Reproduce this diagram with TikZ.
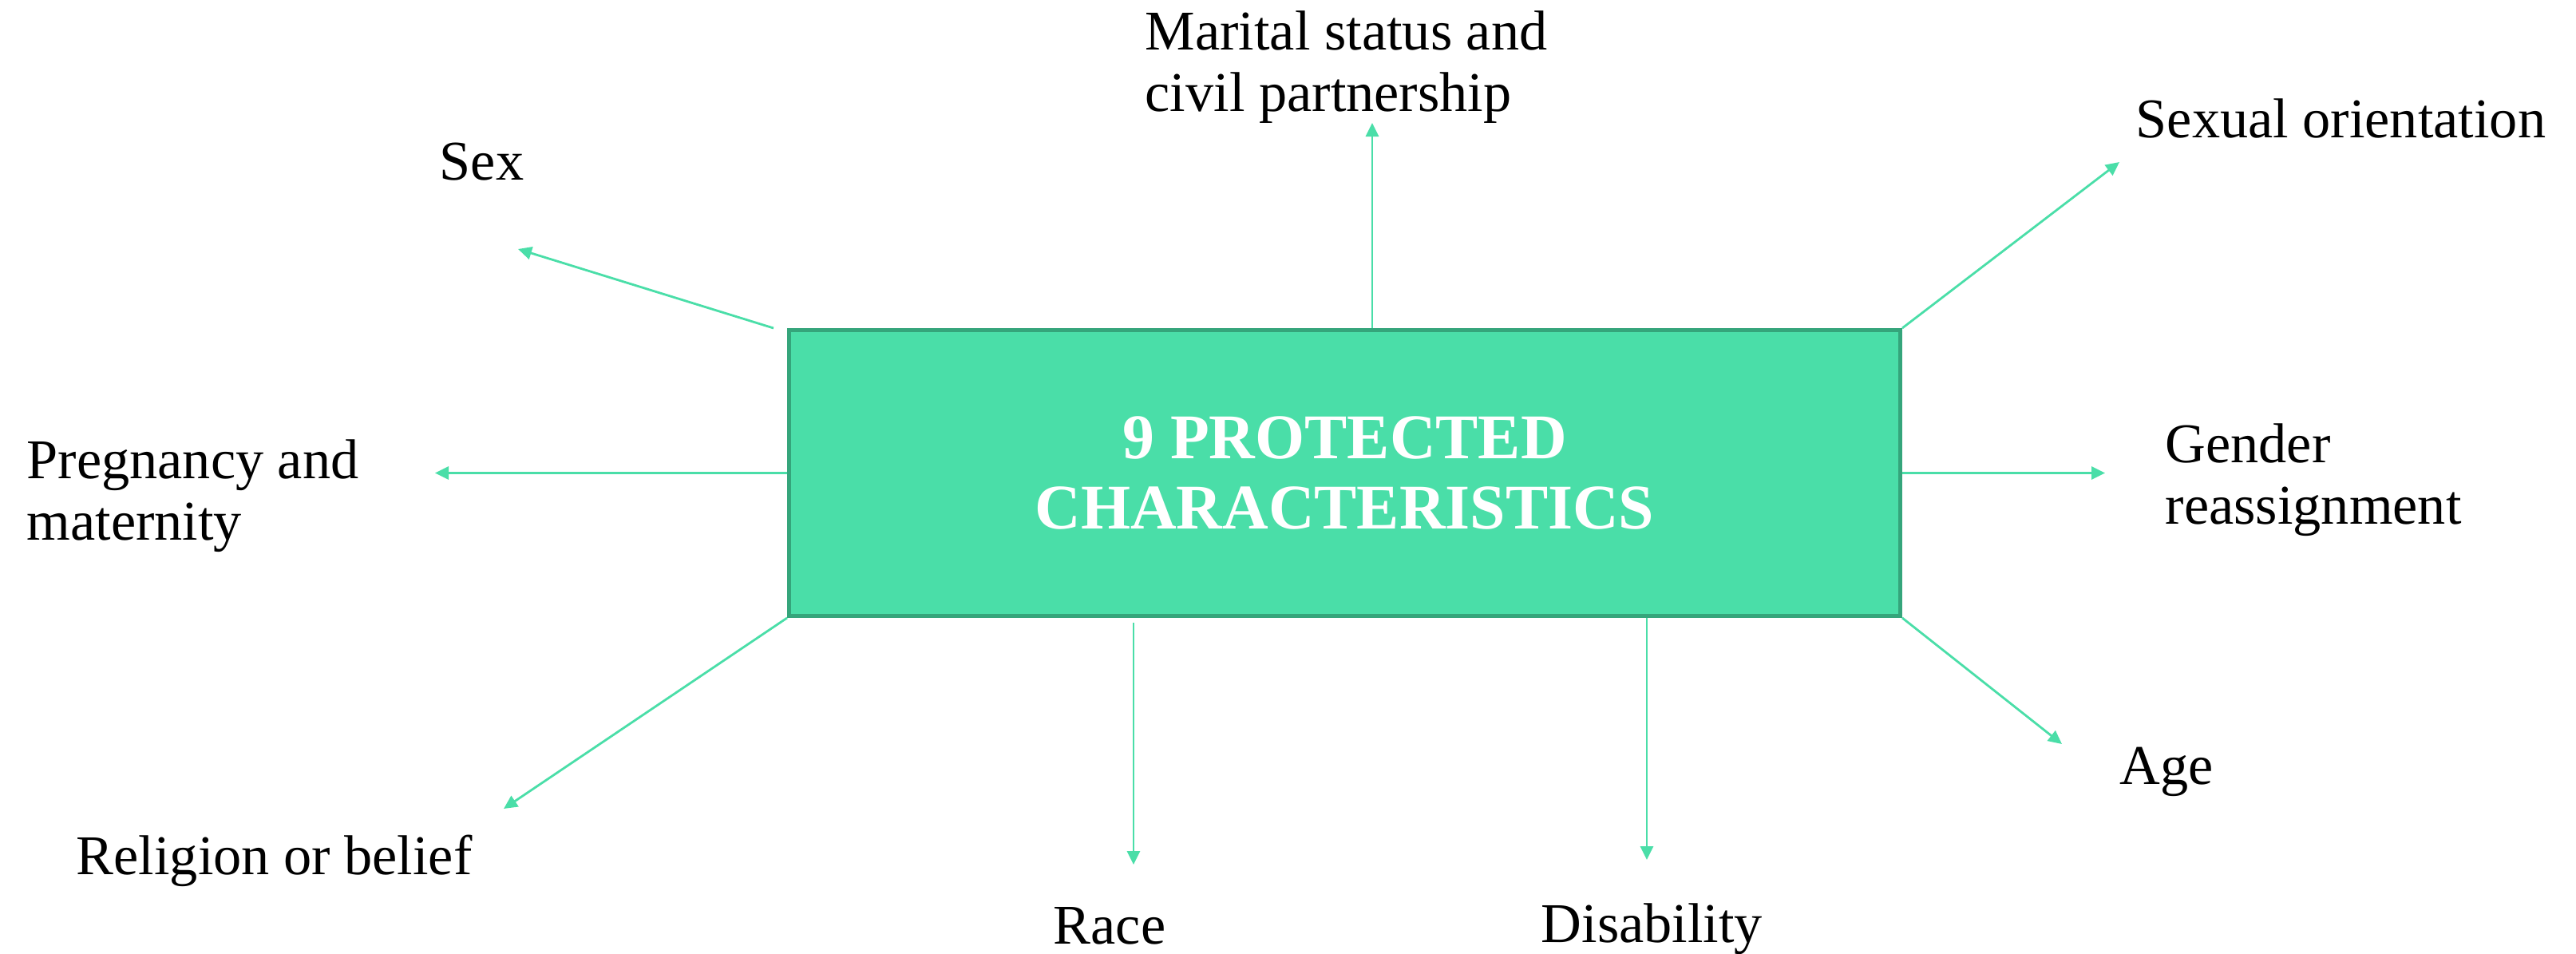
\documentclass[tikz,border=0pt]{standalone}
\usepackage{fontspec}
\setmainfont{Liberation Serif}
\usetikzlibrary{arrows.meta,calc}
\definecolor{mint}{HTML}{4ADEA8}
\definecolor{mintdark}{HTML}{35A57B}
\begin{document}
\begin{tikzpicture}[x=1cm,y=1cm,
  hub/.style={draw=mintdark, fill=mint, line width=0.05cm,
    minimum width=13.92cm, minimum height=3.58cm, inner sep=0pt,
    text=white, align=center,
    font=\bfseries\fontsize{22.7}{25.2}\selectfont},
  link/.style={draw=mint, line width=0.028cm,
    -{Triangle[length=0.17cm,width=0.16cm]}},
  lbl/.style={anchor=base west, inner sep=0pt,
    font=\fontsize{20}{22}\selectfont}]
\useasboundingbox (0,0) rectangle (32.27,-11.95);

% central box
\node[hub] (hub) at (16.845,-5.925) {9 PROTECTED\\CHARACTERISTICS};

% arrow ends
\coordinate (tSex)  at (6.49,-3.12);
\coordinate (tMar)  at (17.19,-1.54);
\coordinate (tSxo)  at (26.55,-2.03);
\coordinate (tGen)  at (26.37,-5.925);
\coordinate (tAge)  at (25.83,-9.32);
\coordinate (tDis)  at (20.63,-10.77);
\coordinate (tRace) at (14.20,-10.83);
\coordinate (tRel)  at (6.31,-10.13);
\coordinate (tPreg) at (5.45,-5.925);

% connectors
\draw[link] ($(hub.north west)+(-0.17,0)$) -- (tSex);
\draw[link] (hub.north -| tMar) -- (tMar);
\draw[link] (hub.north east) -- (tSxo);
\draw[link] (hub.east) -- (tGen);
\draw[link] (hub.south east) -- (tAge);
\draw[link] (hub.south -| tDis) -- (tDis);
\draw[link] ($(hub.south -| tRace)+(0,-0.06)$) -- (tRace);
\draw[link] (hub.south west) -- (tRel);
\draw[link] (hub.west) -- (tPreg);

% labels
\node[lbl] (sex) at (5.50,-2.25) {Sex};
\node[lbl] (mar) at (14.34,-0.62) {\begin{tabular}[t]{@{}l@{}}Marital status and\\civil partnership\end{tabular}};
\node[lbl] (sxo) at (26.75,-1.72) {Sexual orientation};
\node[lbl] (preg) at (0.33,-5.99) {\begin{tabular}[t]{@{}l@{}}Pregnancy and\\maternity\end{tabular}};
\node[lbl] (gen) at (27.12,-5.79) {\begin{tabular}[t]{@{}l@{}}Gender\\reassignment\end{tabular}};
\node[lbl] (age) at (26.55,-9.82) {Age};
\node[lbl] (rel) at (0.95,-10.95) {Religion or belief};
\node[lbl] (race) at (13.19,-11.82) {Race};
\node[lbl] (dis) at (19.30,-11.80) {Disability};
\end{tikzpicture}
\end{document}
